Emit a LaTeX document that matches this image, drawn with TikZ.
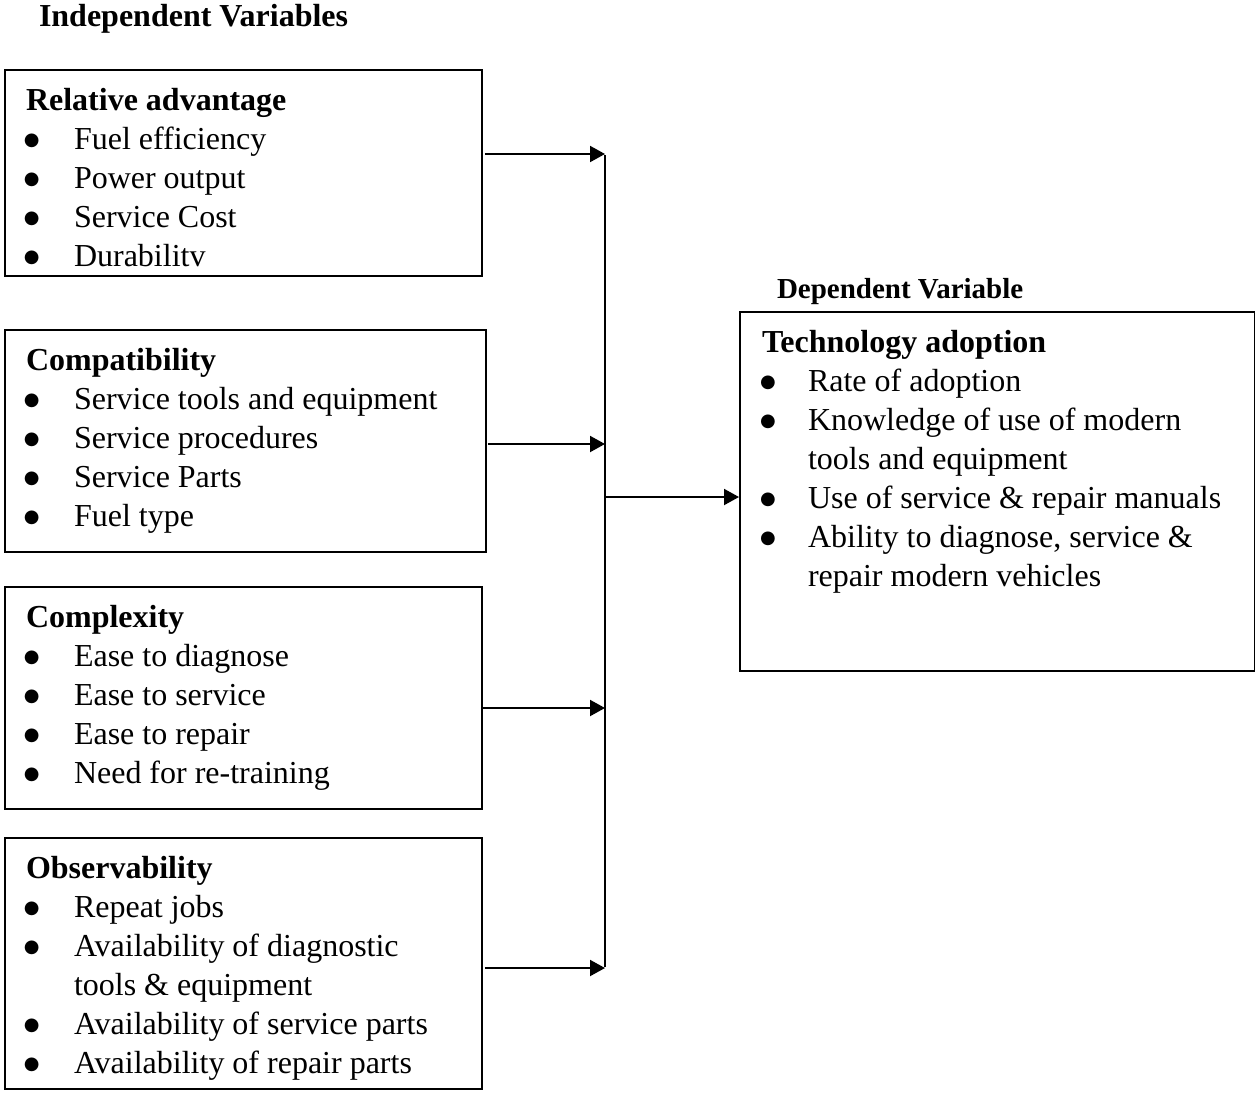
\documentclass[tikz,border=0pt]{standalone}
\usepackage{fontspec}
\setmainfont{Liberation Serif}
\newfontfamily\bulfont{DejaVu Sans}
\usetikzlibrary{arrows.meta}
\tikzset{
  box/.style={draw, line width=1.8pt, rectangle, inner sep=0pt, anchor=north west},
  txt/.style={inner sep=0pt, outer sep=0pt, font=\fontsize{32}{39}\selectfont, align=left},
  ttl/.style={inner sep=0pt, outer sep=0pt, anchor=base west},
  arr/.style={line width=2pt, -{Triangle[length=15pt,width=16pt]}},
  wire/.style={line width=2pt}
}
\newcommand\hd[1]{\multicolumn{2}{@{}l@{}}{\textbf{#1}}}
\newcommand\bul{\hspace{-2pt}\raisebox{4pt}{\bulfont\fontsize{18}{18}\selectfont ●}}
\begin{document}
\begin{tikzpicture}[x=1pt,y=-1pt]
\useasboundingbox (0,0) rectangle (1255,1092);
% titles
\node[ttl, font=\fontsize{32}{39}\selectfont\bfseries] (ttlI) at (39,27) {Independent Variables};
\node[ttl, font=\fontsize{29}{35}\selectfont\bfseries] (ttlD) at (777,298) {Dependent Variable};
% boxes
\node[box, minimum width=477pt, minimum height=206pt] (b1) at (4,69) {};
\node[box, minimum width=481pt, minimum height=222pt] (b2) at (4,329) {};
\node[box, minimum width=477pt, minimum height=222pt] (b3) at (4,586) {};
\node[box, minimum width=477pt, minimum height=251pt] (b4) at (4,837) {};
\node[box, minimum width=515pt, minimum height=359pt] (b5) at (739,311) {};
% texts
\node[txt, anchor=base west] (t1) at (26,110) {\begin{tabular}[t]{@{}p{48pt}@{}l@{}}
\hd{Relative advantage}\\
\bul& Fuel efficiency\\
\bul& Power output\\
\bul& Service Cost\\
\bul& Durabilitv
\end{tabular}};
\node[txt, anchor=base west] (t2) at (26,370) {\begin{tabular}[t]{@{}p{48pt}@{}l@{}}
\hd{Compatibility}\\
\bul& Service tools and equipment\\
\bul& Service procedures\\
\bul& Service Parts\\
\bul& Fuel type
\end{tabular}};
\node[txt, anchor=base west] (t3) at (26,627) {\begin{tabular}[t]{@{}p{48pt}@{}l@{}}
\hd{Complexity}\\
\bul& Ease to diagnose\\
\bul& Ease to service\\
\bul& Ease to repair\\
\bul& Need for re-training
\end{tabular}};
\node[txt, anchor=base west] (t4) at (26,878) {\begin{tabular}[t]{@{}p{48pt}@{}l@{}}
\hd{Observability}\\
\bul& Repeat jobs\\
\bul& Availability of diagnostic\\
 & tools \& equipment\\
\bul& Availability of service parts\\
\bul& Availability of repair parts
\end{tabular}};
\node[txt, anchor=base west] (t5) at (762,352) {\begin{tabular}[t]{@{}p{46pt}@{}l@{}}
\hd{Technology adoption}\\
\bul& Rate of adoption\\
\bul& Knowledge of use of modern\\
 & tools and equipment\\
\bul& Use of service \& repair manuals\\
\bul& Ability to diagnose, service \&\\
 & repair modern vehicles
\end{tabular}};
% junction points
\coordinate (j1) at (605,154);
\coordinate (j2) at (605,444);
\coordinate (j3) at (605,708);
\coordinate (j4) at (605,968);
\coordinate (jo) at (605,497);
% connectors
\draw[wire] ([yshift=-1pt]j1) -- ([yshift=1pt]j4);
\draw[arr] ([xshift=2pt]b1.east |- j1) -- (j1);
\draw[arr] ([xshift=1pt]b2.east |- j2) -- (j2);
\draw[arr] (b3.east |- j3) -- (j3);
\draw[arr] ([xshift=2pt]b4.east |- j4) -- (j4);
\draw[arr] (jo) -- (b5.west |- jo);
\end{tikzpicture}
\end{document}
